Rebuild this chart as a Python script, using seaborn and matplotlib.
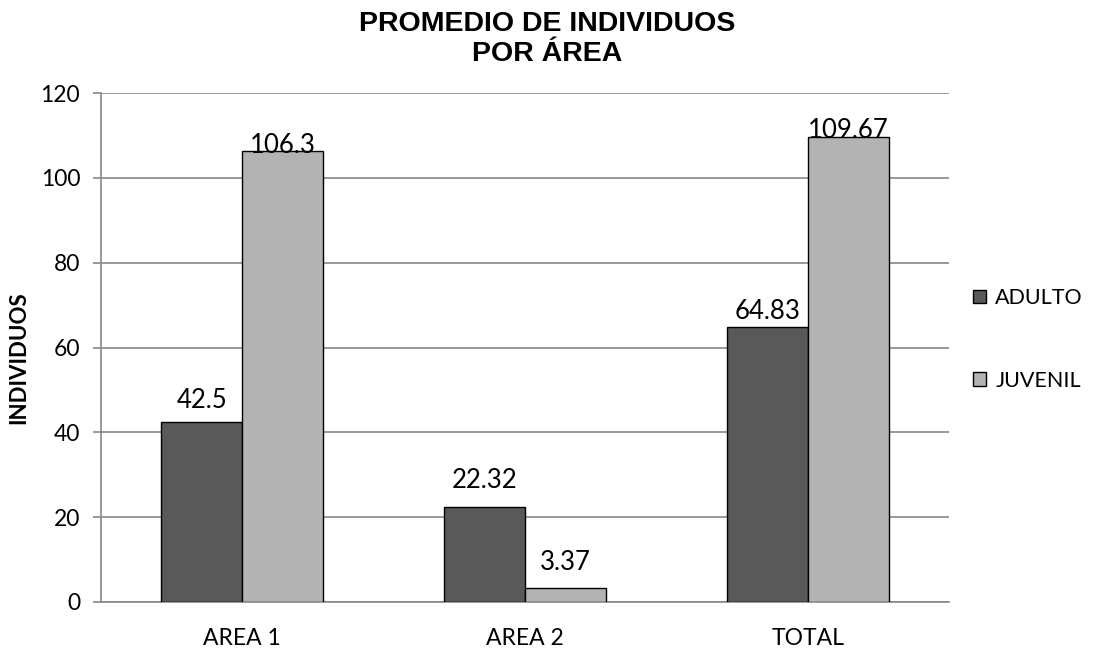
import matplotlib
matplotlib.use("Agg")
import matplotlib.pyplot as plt
import seaborn as sns
import pandas as pd

# Mean number of individuals per area, by age class
areas = ["AREA 1", "AREA 2", "TOTAL"]
adulto = [42.5, 22.32, 64.83]
juvenil = [106.3, 3.37, 109.67]
series = ["ADULTO", "JUVENIL"]
y_ticks = [0, 20, 40, 60, 80, 100, 120]

df = pd.DataFrame({
    "area": areas * 2,
    "serie": [series[0]] * len(areas) + [series[1]] * len(areas),
    "valor": adulto + juvenil,
})

sns.set_theme(style="white")
plt.rcParams["font.family"] = ["Lato", "DejaVu Sans"]
plt.rcParams["text.color"] = "black"
plt.rcParams["axes.labelcolor"] = "black"
plt.rcParams["xtick.color"] = "black"
plt.rcParams["ytick.color"] = "black"

W, H = 1094, 653
fig = plt.figure(figsize=(W / 100, H / 100), dpi=100)
ax = fig.add_axes([101 / W, 1 - 602 / H, 848 / W, 509 / H])

palette = {"ADULTO": "#595959", "JUVENIL": "#b3b3b3"}
sns.barplot(data=df, x="area", y="valor", hue="serie", order=areas,
            hue_order=series, palette=palette, width=0.574, gap=0,
            edgecolor="black", linewidth=1.0, saturation=1, ax=ax,
            zorder=3)

ax.set_xlim(-0.5, len(areas) - 0.5)
ax.set_ylim(0, 120)
ax.set_yticks(y_ticks)
ax.set_yticklabels([str(t) for t in y_ticks], fontsize=16.5)
ax.yaxis.grid(True, color="#888888", linewidth=1.2, zorder=0)
ax.xaxis.grid(False)
ax.set_axisbelow(True)

# Category labels without ticks; tick marks on category boundaries
ax.tick_params(axis="x", which="major", length=0, pad=19, labelsize=16.5)
ax.set_xticks([i - 0.5 for i in range(len(areas) + 1)], minor=True)
ax.tick_params(axis="x", which="minor", length=6, color="#888888",
               width=1.2, direction="out")
ax.tick_params(axis="y", length=6, color="#888888", width=1.2,
               direction="out", pad=9, left=True, labelcolor="black")
ax.tick_params(axis="x", labelcolor="black")

for side in ["top", "right"]:
    ax.spines[side].set_visible(False)
for side in ["left", "bottom"]:
    ax.spines[side].set_color("#888888")
    ax.spines[side].set_linewidth(1.2)

ax.set_xlabel("")
ax.set_ylabel("INDIVIDUOS", fontsize=16, fontweight="bold",
              va="center", ha="center", color="black")
ax.yaxis.set_label_coords((19 - 101) / 848, (602 - 358) / 509)

# Value labels above each bar (vertical offsets in points)
label_offsets = {"ADULTO": [6, 10, 2], "JUVENIL": [-5, 9, -4.5]}
for container, name in zip(ax.containers, series):
    vals = adulto if name == "ADULTO" else juvenil
    for bar, v, off in zip(container, vals, label_offsets[name]):
        ax.annotate(f"{v:g}", (bar.get_x() + bar.get_width() / 2, bar.get_height()),
                    xytext=(0, off), textcoords="offset points",
                    ha="center", va="bottom", fontsize=18.5, color="black",
                    zorder=5)

handles, labels = ax.get_legend_handles_labels()
leg = ax.legend(handles, labels, loc="center left", bbox_to_anchor=(1.006, 0.516),
                frameon=False, fontsize=15.5, labelspacing=2.9, handlelength=0.6,
                handleheight=0.6, handletextpad=0.42)
for t in leg.get_texts():
    t.set_color("black")

fig.text(0.5, 1 - 39 / H, "PROMEDIO DE INDIVIDUOS\nPOR ÁREA", ha="center",
         va="center", fontsize=20.5, fontweight="bold", color="black",
         family=["Liberation Sans", "DejaVu Sans"], linespacing=1.2)

fig.savefig("out.png", dpi=100, facecolor="white")
